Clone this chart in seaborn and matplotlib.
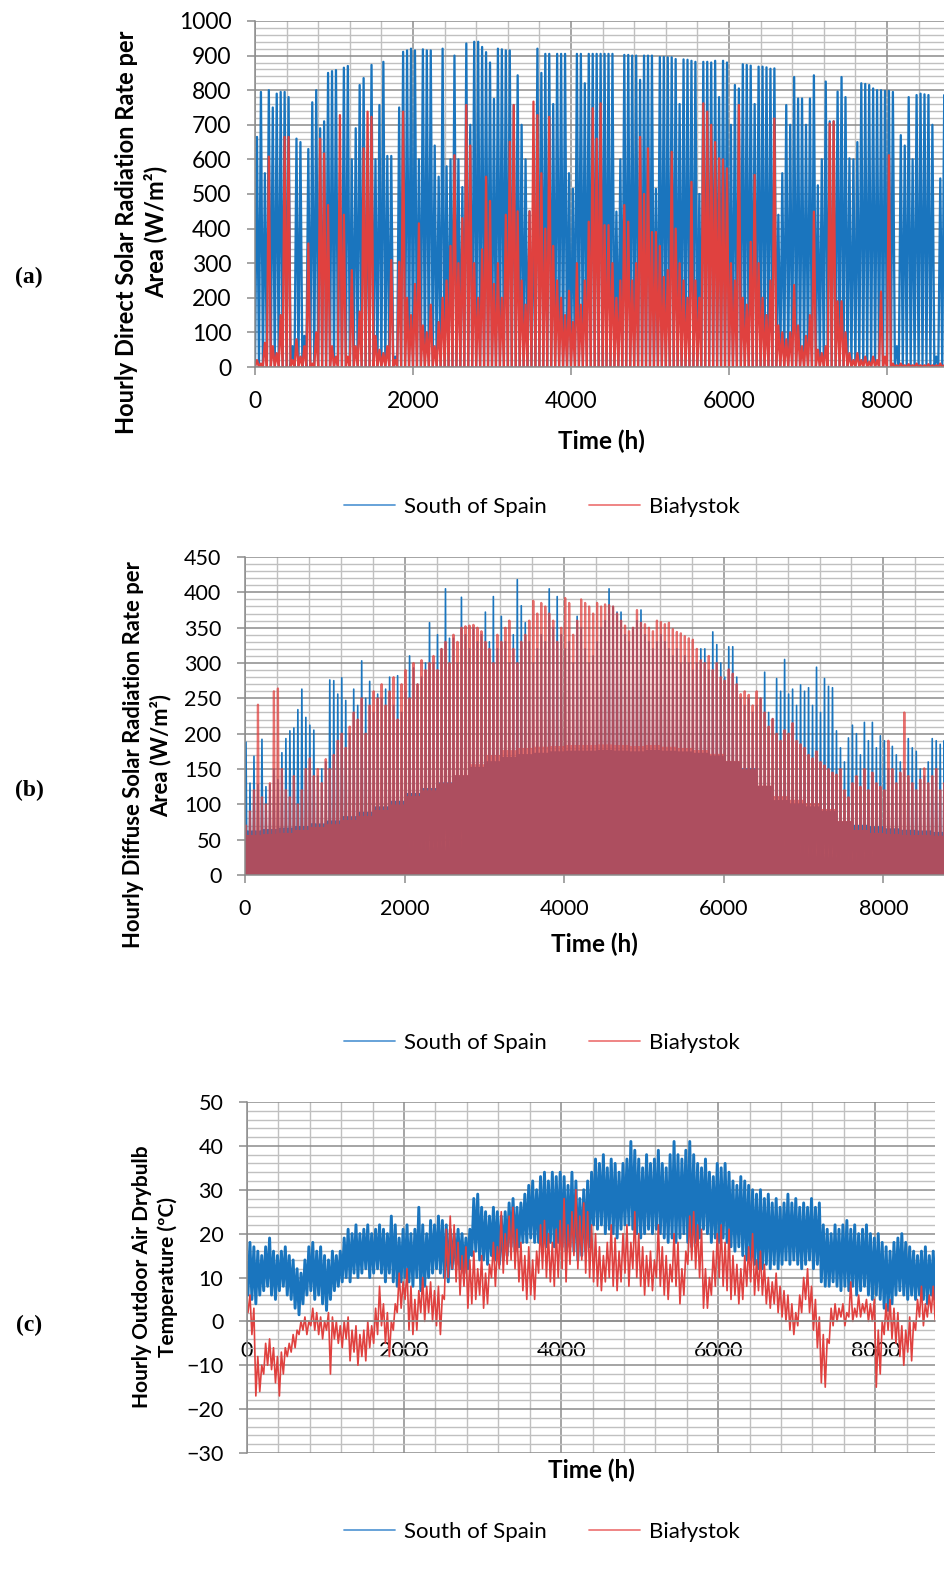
import numpy as np
import pandas as pd
import matplotlib
matplotlib.use("Agg")
import matplotlib.pyplot as plt
from matplotlib.lines import Line2D
from matplotlib.ticker import MultipleLocator
import seaborn as sns

sns.set_theme(style="white")
plt.rcParams['font.family'] = ['Lato', 'DejaVu Sans']
plt.rcParams['text.color'] = 'black'
plt.rcParams['axes.labelcolor'] = 'black'

SITES = ["South of Spain", "Białystok"]
WINDOW_H = 50          # each value below = one 50-hour window of the year (0 ... 8800 h)
FLOOR_H = 200          # floor values: one per 200-hour span
XTICKS_MAJOR = 2000
XTICKS_MINOR = 400

# ---- (a) peak hourly direct solar radiation per window (W/m2)
direct_spain = [
    665, 795, 560, 800, 750, 790, 795, 795,
    780, 60, 660, 650, 90, 630, 765, 800,
    690, 710, 850, 855, 858, 560, 865, 870,
    600, 690, 815, 835, 620, 873, 600, 757,
    882, 610, 610, 30, 750, 911, 915, 920,
    915, 600, 918, 915, 915, 640, 550, 920,
    580, 600, 900, 600, 520, 935, 700, 940,
    940, 925, 910, 880, 775, 920, 918, 915,
    915, 757, 843, 700, 600, 450, 480, 920,
    850, 905, 905, 760, 905, 905, 905, 560,
    515, 905, 905, 820, 905, 905, 905, 905,
    905, 905, 905, 449, 600, 902, 902, 900,
    900, 830, 900, 900, 900, 515, 896, 896,
    895, 895, 890, 760, 889, 888, 885, 882,
    500, 882, 882, 880, 885, 780, 885, 880,
    700, 815, 805, 875, 873, 871, 760, 868,
    868, 866, 862, 863, 440, 560, 757, 700,
    838, 776, 776, 700, 776, 843, 525, 600,
    825, 710, 710, 796, 838, 780, 603, 600,
    650, 820, 818, 815, 805, 800, 800, 798,
    798, 795, 60, 670, 640, 780, 600, 786,
    790, 788, 786, 700, 30, 545, 786, 780,
]
direct_bialystok = [
    20, 10, 70, 608, 60, 40, 150, 665,
    665, 20, 80, 30, 60, 357, 10, 100,
    660, 617, 468, 60, 30, 728, 440, 30,
    280, 60, 160, 632, 738, 723, 90, 50,
    40, 60, 309, 20, 304, 738, 200, 150,
    240, 415, 120, 100, 180, 60, 130, 200,
    250, 350, 612, 300, 430, 757, 640, 300,
    200, 340, 550, 480, 240, 300, 200, 440,
    651, 757, 450, 250, 180, 450, 767, 728,
    560, 400, 723, 350, 250, 200, 150, 220,
    130, 300, 180, 250, 420, 748, 660, 762,
    410, 410, 300, 200, 250, 468, 420, 250,
    300, 665, 500, 632, 390, 390, 350, 260,
    280, 622, 400, 300, 250, 200, 535, 250,
    200, 762, 738, 700, 650, 603, 600, 574,
    300, 250, 757, 200, 180, 362, 555, 300,
    200, 150, 250, 718, 120, 100, 80, 100,
    237, 120, 60, 90, 150, 449, 50, 40,
    60, 704, 710, 190, 190, 100, 40, 20,
    40, 20, 30, 15, 30, 20, 218, 30,
    612, 10, 5, 10, 5, 8, 5, 10,
    5, 5, 8, 5, 5, 10, 5, 5,
]

# ---- (b) peak hourly diffuse solar radiation per window (W/m2)
diffuse_spain = [
    188, 130, 168, 128, 192, 125, 128, 150,
    135, 173, 193, 204, 208, 234, 263, 223,
    212, 205, 140, 150, 160, 276, 275, 256,
    279, 247, 200, 263, 240, 303, 250, 274,
    230, 256, 250, 263, 280, 240, 282, 230,
    260, 310, 293, 270, 280, 300, 357, 300,
    340, 320, 405, 335, 335, 300, 393, 340,
    320, 350, 330, 340, 372, 330, 394, 320,
    366, 330, 300, 340, 418, 381, 357, 330,
    300, 320, 340, 330, 405, 350, 394, 340,
    320, 330, 300, 366, 350, 320, 300, 310,
    330, 350, 360, 405, 380, 372, 372, 340,
    330, 350, 360, 375, 340, 330, 320, 330,
    340, 330, 320, 310, 320, 300, 310, 300,
    290, 300, 320, 320, 290, 344, 326, 300,
    280, 323, 323, 280, 250, 240, 250, 230,
    240, 250, 287, 230, 221, 278, 260, 305,
    256, 263, 240, 269, 260, 265, 240, 294,
    230, 278, 267, 265, 204, 180, 160, 194,
    212, 200, 170, 216, 190, 216, 180, 197,
    190, 150, 182, 170, 160, 150, 193, 180,
    175, 150, 140, 160, 193, 190, 185, 190,
]
diffuse_bialystok = [
    70, 90, 120, 241, 110, 100, 130, 260,
    264, 150, 120, 110, 140, 100, 120, 150,
    165, 140, 150, 130, 164, 150, 170, 190,
    200, 180, 210, 230, 220, 250, 200, 240,
    260, 250, 270, 240, 260, 280, 220, 270,
    290, 250, 300, 270, 304, 290, 300, 310,
    290, 320, 330, 300, 340, 330, 350, 352,
    353, 354, 350, 345, 330, 320, 300, 340,
    330, 350, 360, 320, 300, 330, 340, 360,
    388, 370, 385, 380, 370, 360, 330, 350,
    392, 385, 340, 360, 390, 385, 380, 370,
    385, 380, 383, 382, 380, 370, 360, 353,
    345, 350, 375, 357, 355, 350, 345, 360,
    358, 355, 357, 348, 344, 342, 338, 335,
    333, 320, 304, 300, 310, 290, 300, 280,
    275, 291, 285, 270, 256, 260, 255, 240,
    260, 250, 230, 210, 221, 200, 190, 205,
    200, 215, 190, 185, 180, 170, 165, 175,
    160, 155, 150, 145, 142, 150, 120, 110,
    130, 140, 125, 150, 120, 145, 130, 125,
    120, 190, 150, 130, 145, 230, 140, 130,
    120, 135, 151, 130, 140, 150, 120, 130,
]
# lowest daily peak (top of the solid mass) per 200-h span (W/m2)
diffuse_spain_floor = [
    62, 64, 66, 68, 72, 76, 82, 88, 96, 104, 115,
    122, 130, 140, 152, 160, 166, 170, 172, 174, 175, 175,
    176, 175, 174, 176, 175, 174, 172, 168, 160, 150, 125,
    105, 100, 96, 90, 75, 70, 68, 65, 63, 62, 60,
]
diffuse_bialystok_floor = [
    55, 56, 58, 62, 66, 70, 76, 82, 90, 98, 110,
    118, 128, 140, 155, 168, 175, 178, 180, 181, 182, 182,
    183, 182, 181, 182, 180, 178, 175, 170, 160, 148, 125,
    110, 105, 100, 92, 75, 62, 58, 56, 55, 55, 54,
]

# ---- (c) outdoor dry-bulb temperature per window: max and min (degC)
temp_spain_max = [
    18, 17, 16, 15, 17, 19, 16, 15,
    16, 17, 15, 14, 12, 11, 14, 17,
    18, 16, 17, 15, 14, 16, 15, 16,
    19, 21, 20, 22, 20, 21, 22, 20,
    21, 22, 21, 20, 24, 22, 19, 21,
    22, 20, 21, 26, 22, 20, 23, 22,
    24, 23, 22, 21, 20, 21, 20, 19,
    21, 28, 29, 26, 25, 24, 26, 25,
    24, 25, 27, 28, 26, 27, 29, 31,
    32, 30, 33, 34, 32, 34, 33, 34,
    33, 31, 34, 32, 28, 30, 32, 34,
    37, 36, 38, 35, 37, 36, 34, 36,
    37, 41, 39, 37, 35, 38, 36, 37,
    39, 36, 35, 38, 41, 38, 37, 39,
    41, 38, 36, 35, 37, 34, 33, 36,
    35, 36, 34, 32, 31, 33, 32, 31,
    30, 29, 30, 28, 29, 27, 28, 26,
    27, 29, 27, 28, 26, 27, 26, 28,
    26, 27, 22, 21, 20, 22, 21, 22,
    23, 21, 22, 20, 21, 22, 20, 19,
    20, 18, 17, 16, 18, 19, 20, 18,
    17, 16, 15, 16, 17, 15, 16, 15,
]
temp_spain_min = [
    6, 5, 4, 6, 7, 8, 6, 5,
    7, 8, 6, 5, 3, 1.5, 4, 6,
    7, 5, 6, 4, 2.5, 5, 7, 8,
    9, 10, 9, 11, 10, 11, 12, 10,
    11, 12, 11, 9, 11, 9, 8, 9,
    10, 9, 8, 10, 7, 8, 10, 11,
    12, 11, 10, 9, 12, 13, 12, 11,
    12, 15, 16, 14, 14, 13, 15, 14,
    13, 14, 15, 17, 16, 17, 18, 18,
    19, 18, 18, 17, 17, 18, 17, 18,
    17, 16, 17, 16, 14, 15, 16, 17,
    22, 21, 22, 20, 21, 20, 19, 21,
    22, 22, 21, 20, 19, 20, 21, 20,
    21, 20, 19, 18, 19, 18, 19, 20,
    18, 17, 18, 19, 21, 20, 18, 19,
    18, 19, 18, 17, 16, 17, 15, 14,
    14, 13, 12, 12, 13, 12, 13, 12,
    13, 14, 13, 14, 13, 12, 13, 14,
    12, 13, 9, 8, 8, 9, 8, 7,
    8, 7, 8, 6, 7, 8, 6, 5,
    6, 5, 3, 2.5, 4, 6, 7, 6,
    5, 6, 5, 6, 5, 4, 6, 5,
]
temp_bialystok_max = [
    6, 3, -8, -10, -5, -4, -6, -8,
    -7, -6, -5, -3, -2, 0, 1, 0,
    3, 2, 1, 0, 2, 1, 0, -1,
    0, 1, -2, -1, -3, -2, 0, -1,
    3, 8, 4, 2, 0, 4, 11, 9,
    12, 8, 5, 7, 10, 8, 9, 7,
    8, 6, 21, 24, 22, 18, 15, 17,
    14, 16, 12, 15, 11, 13, 18, 17,
    25, 20, 24, 26, 21, 18, 15, 17,
    14, 16, 22, 23, 20, 18, 21, 23,
    28, 22, 25, 30, 24, 27, 25, 22,
    20, 17, 15, 18, 22, 19, 16, 20,
    22, 18, 25, 20, 17, 15, 16, 14,
    22, 17, 15, 13, 20, 18, 12, 16,
    24, 25, 22, 21, 12, 10, 16, 20,
    22, 18, 21, 15, 13, 12, 15, 17,
    20, 14, 16, 13, 10, 9, 11, 8,
    7, 6, 4, 2, 6, 10, 12, 8,
    5, 1, -3, -4, 3, 4, 3, 4,
    2, 9, 3, 6, 4, 5, 4, 5,
    -2, 0, 4, 5, 3, 2, -1, -2,
    1, 0, 5, 8, 4, 6, 8, 4,
]
temp_bialystok_min = [
    2, -3, -17, -16, -12, -10, -11, -14,
    -17, -12, -8, -7, -6, -3, -2, -3,
    -1, -2, -3, -4, -2, -12, -4, -5,
    -6, -4, -9, -7, -10, -8, -9, -6,
    -5, -3, -1, -5, -8, -2, 2, 3,
    5, -2, -3, -2, 2, 0, 2, 0,
    -1, -3, 5, 10, 12, 9, 6, 8,
    3, 4, 5, 6, 3, 4, 10, 8,
    12, 11, 13, 14, 12, 9, 7, 5,
    6, 5, 11, 12, 10, 9, 8, 10,
    12, 9, 13, 15, 12, 14, 11, 10,
    9, 8, 7, 9, 10, 8, 7, 9,
    11, 8, 12, 10, 8, 6, 8, 7,
    10, 8, 6, 5, 9, 8, 4, 6,
    13, 14, 12, 10, 3, 3, 6, 8,
    10, 8, 7, 5, 6, 4, 5, 8,
    9, 6, 7, 6, 4, 3, 4, 2,
    1, 0, -2, -3, -1, 2, 5, 2,
    -2, -6, -14, -15, -5, -1, 0, 1,
    -1, 1, 0, 1, 1, 2, 0, 0,
    -15, -12, -3, -2, -4, -5, -8, -10,
    -7, -9, -2, 1, -1, 1, 2, 0,
]

BLUE = "#1A75BE"
RED = "#E0413F"
LEG_BLUE = "#5B9BD5"
LEG_RED = "#EE7B7B"
GRID_MAJOR = "#8C8C8C"
GRID_MINOR = "#C0C0C0"


def spike_frame(peaks):
    """Night zero at window edges, window peak in the middle."""
    hours, vals = [], []
    for i, p in enumerate(peaks):
        hours += [i * WINDOW_H, i * WINDOW_H + WINDOW_H / 2]
        vals += [0, p]
    hours.append(len(peaks) * WINDOW_H)
    vals.append(0)
    return pd.DataFrame({"hour": hours, "value": vals})


def spike_floor_frame(peaks, floors):
    """Two daylight spikes per window: the window peak and the span floor."""
    per_span = FLOOR_H // WINDOW_H
    hours, vals = [], []
    for i, p in enumerate(peaks):
        f = floors[i // per_span]
        base = i * WINDOW_H
        hours += [base, base + WINDOW_H / 4, base + WINDOW_H / 2, base + 3 * WINDOW_H / 4]
        vals += [0, p, 0, f]
    hours.append(len(peaks) * WINDOW_H)
    vals.append(0)
    return pd.DataFrame({"hour": hours, "value": vals})


def band_frame(mins, maxs):
    hours, vals = [], []
    for i, (lo, hi) in enumerate(zip(mins, maxs)):
        hours += [i * WINDOW_H + WINDOW_H / 4, i * WINDOW_H + 3 * WINDOW_H / 4]
        vals += [lo, hi]
    return pd.DataFrame({"hour": hours, "value": vals})


W, H = 945, 1593
fig = plt.figure(figsize=(W / 100, H / 100), dpi=100)
fig.patch.set_facecolor("white")


def px_axes(left, top, right, bottom):
    return fig.add_axes([left / W, 1 - bottom / H, (right - left) / W, (bottom - top) / H])


axA = px_axes(255, 21, 947, 367)
axB = px_axes(245, 557, 944, 875)
axC = px_axes(247, 1102, 935, 1453)


def style_axes(ax, ymin, ymax, ymaj, ymin_step, tick_fs):
    ax.set_xlim(0, 8760)
    ax.set_ylim(ymin, ymax)
    ax.xaxis.set_major_locator(MultipleLocator(XTICKS_MAJOR))
    ax.xaxis.set_minor_locator(MultipleLocator(XTICKS_MINOR))
    ax.yaxis.set_major_locator(MultipleLocator(ymaj))
    ax.yaxis.set_minor_locator(MultipleLocator(ymin_step))
    ax.set_axisbelow(True)
    ax.grid(which="major", color=GRID_MAJOR, lw=1.1)
    ax.grid(which="minor", color=GRID_MINOR, lw=1.0)
    for s in ["top", "right"]:
        ax.spines[s].set_visible(False)
    for s in ["left", "bottom"]:
        ax.spines[s].set_color(GRID_MAJOR)
        ax.spines[s].set_linewidth(1.1)
    ax.tick_params(which="major", direction="out", length=6, width=1.1, color=GRID_MAJOR,
                   labelcolor="black", labelsize=tick_fs, pad=11, left=True, bottom=True)
    ax.tick_params(which="minor", length=0)
    ax.set_xlabel("")
    ax.set_ylabel("")


# (a)
sns.lineplot(data=spike_frame(direct_spain), x="hour", y="value", ax=axA, color=BLUE,
             lw=1.65, estimator=None, sort=False, errorbar=None)
sns.lineplot(data=spike_frame(direct_bialystok), x="hour", y="value", ax=axA, color=RED,
             lw=1.65, estimator=None, sort=False, errorbar=None)
style_axes(axA, 0, 1000, 100, 20, 16.5)

# (b)
sns.lineplot(data=spike_floor_frame(diffuse_spain, diffuse_spain_floor), x="hour", y="value",
             ax=axB, color=BLUE, lw=1.2, estimator=None, sort=False, errorbar=None)
sns.lineplot(data=spike_floor_frame(diffuse_bialystok, diffuse_bialystok_floor), x="hour",
             y="value", ax=axB, color=RED, lw=1.6, alpha=0.75, estimator=None, sort=False,
             errorbar=None)
style_axes(axB, 0, 450, 50, 10, 15.5)

# (c)
sns.lineplot(data=band_frame(temp_spain_min, temp_spain_max), x="hour", y="value", ax=axC,
             color=BLUE, lw=2.1, estimator=None, sort=False, errorbar=None)
sns.lineplot(data=band_frame(temp_bialystok_min, temp_bialystok_max), x="hour", y="value",
             ax=axC, color=RED, lw=1.2, estimator=None, sort=False, errorbar=None)
style_axes(axC, -30, 50, 10, 2, 15.5)
axC.spines["bottom"].set_position(("data", 0))
axC.tick_params(axis="x", which="major", length=0, pad=14)

# x labels
for ax, yc in [(axA, -0.18), (axB, -0.18), (axC, -0.017)]:
    ax.set_xlabel("Time (h)", fontsize=17.5, fontweight="bold")
    ax.xaxis.set_label_coords(0.5, yc)

# y labels (two-line, rotated)
ylabels = [
    ("Hourly Direct Solar Radiation Rate per\nArea (W/m²)", 141, 232, 17),
    ("Hourly Diffuse Solar Radiation Rate per\nArea (W/m²)", 147, 755, 15.8),
    ("Hourly Outdoor Air Drybulb\nTemperature (ºC)", 155, 1277, 15),
]
for txt, xc, yc, fs in ylabels:
    fig.text(xc / W, 1 - yc / H, txt, rotation=90, ha="center", va="center",
             multialignment="center", fontsize=fs, fontweight="bold", linespacing=1.3)

# panel letters
for letter, yc in [("(a)", 277), ("(b)", 790), ("(c)", 1325)]:
    fig.text(29 / W, 1 - yc / H, letter, ha="center", va="center", fontsize=17,
             fontweight="bold", family=["Liberation Serif", "DejaVu Serif"])

# legends
handles = [Line2D([], [], color=LEG_BLUE, lw=1.3), Line2D([], [], color=LEG_RED, lw=1.3)]
for yc in [507, 1043, 1532]:
    fig.legend(handles, SITES, loc="center", bbox_to_anchor=(542 / W, 1 - yc / H), ncol=2,
               frameon=False, fontsize=16, handlelength=2.3, handletextpad=0.4,
               columnspacing=1.9)

fig.savefig("out.png", dpi=100, facecolor="white")
